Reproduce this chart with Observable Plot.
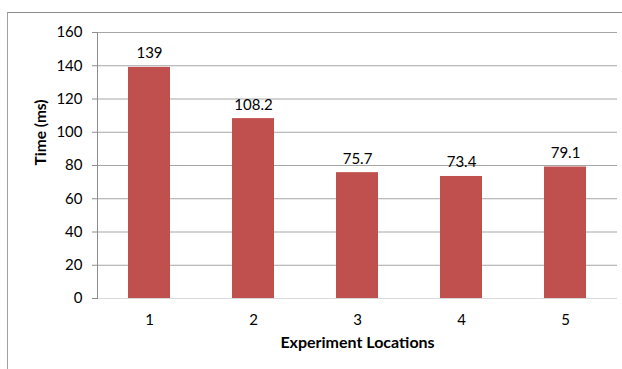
<!DOCTYPE html>
<html>
<head>
<meta charset="utf-8">
<script src="https://cdn.jsdelivr.net/npm/d3@7"></script>
<script src="https://cdn.jsdelivr.net/npm/@observablehq/plot@0.6"></script>
<style>
  html, body { margin: 0; padding: 0; background: #fff; }
  #chart { position: relative; width: 622px; height: 369px; overflow: hidden; }
  #frame { position: absolute; left: 7px; top: 12px; width: 640px; height: 380px;
           border-top: 1px solid #8c8c8c; border-left: 1px solid #a0a0a0; box-sizing: border-box; }
  #chart svg { position: absolute; left: 0; top: 0; }
</style>
</head>
<body>
<div id="chart"><div id="frame"></div></div>
<script>
// Mean time per experiment location
const locations = ["1", "2", "3", "4", "5"];
const times = [139, 108.2, 75.7, 73.4, 79.1];
const yTicks = [0, 20, 40, 60, 80, 100, 120, 140, 160];

const rows = locations.map((loc, i) => ({loc, time: times[i]}));
const font = "Lato, 'Open Sans', sans-serif";

const plot = Plot.plot({
  width: 622,
  height: 369,
  marginLeft: 97,
  marginRight: 5,
  marginTop: 32,
  marginBottom: 71,
  style: {fontFamily: font, fontSize: "15px", color: "#000", background: "transparent"},
  x: {domain: locations, paddingInner: 0.6, paddingOuter: 0.3},
  y: {domain: [0, 160]},
  marks: [
    Plot.gridY(yTicks.filter(d => d > 0), {stroke: "#a6a6a6", strokeOpacity: 1}),
    Plot.ruleY([0], {stroke: "#d9d9d9"}),
    Plot.barY(rows, {x: "loc", y: "time", fill: "#c0504d"}),
    Plot.text(rows, {x: "loc", y: "time", text: d => String(d.time), lineAnchor: "bottom", dy: -9, fill: "#000", fontSize: 15}),
    Plot.frame({anchor: "left", stroke: "#8c8c8c"}),
    Plot.axisY({ticks: yTicks, tickSize: 5, tickPadding: 10, stroke: "#8c8c8c", label: null, fontSize: 15}),
    Plot.axisX({tickSize: 0, tickPadding: 16, label: null, fontSize: 15}),
    Plot.text(["Time (ms)"], {frameAnchor: "left", dx: -56, rotate: -90, fontWeight: "bold", fontSize: 15.5}),
    Plot.text(["Experiment Locations"], {frameAnchor: "bottom", dy: 49, fontWeight: "bold", fontSize: 16})
  ]
});
document.getElementById("chart").appendChild(plot);
</script>
</body>
</html>
